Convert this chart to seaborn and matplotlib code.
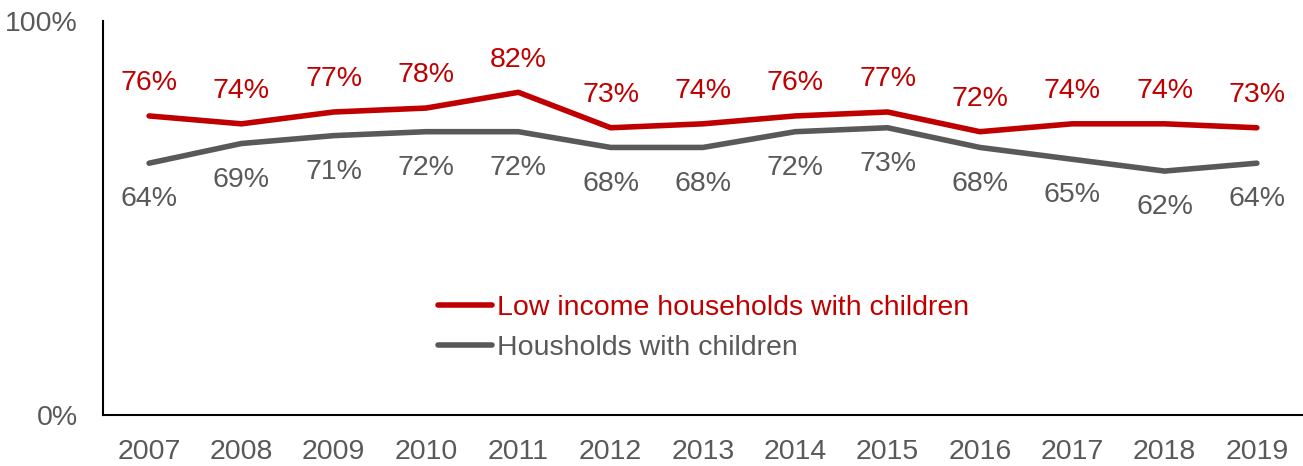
import matplotlib
matplotlib.use("Agg")
import matplotlib.pyplot as plt
import seaborn as sns
import pandas as pd

years = [2007, 2008, 2009, 2010, 2011, 2012, 2013, 2014, 2015, 2016, 2017, 2018, 2019]
low_income = [76, 74, 77, 78, 82, 73, 74, 76, 77, 72, 74, 74, 73]
households = [64, 69, 71, 72, 72, 68, 68, 72, 73, 68, 65, 62, 64]
series_names = ["Low income households with children", "Housholds with children"]
colors = ["#C00000", "#595959"]

sns.set_theme(style="white")
plt.rcParams['font.family'] = ['Liberation Sans', 'DejaVu Sans']

FS = 20.5

df = pd.DataFrame({
    "pos": list(range(len(years))) * 2,
    "value": low_income + households,
    "series": [series_names[0]] * len(years) + [series_names[1]] * len(years),
})

fig = plt.figure(figsize=(13.03, 4.66), dpi=100)
ax = fig.add_axes([0.079, 0.109, 0.921, 0.845])

sns.lineplot(data=df, x="pos", y="value", hue="series", palette=colors,
             hue_order=series_names, linewidth=4, ax=ax, legend=True)

for i, v in enumerate(low_income):
    ax.annotate(f"{v}%", (i, v), xytext=(0, 23.5), textcoords="offset points",
                ha="center", va="center", color=colors[0], fontsize=FS)
for i, v in enumerate(households):
    ax.annotate(f"{v}%", (i, v), xytext=(0, -26), textcoords="offset points",
                ha="center", va="center", color=colors[1], fontsize=FS)

ax.set_xlim(-0.5, len(years) - 0.5)
ax.set_ylim(0, 100)
ax.set_xticks(range(len(years)))
ax.set_xticklabels([str(y) for y in years])
ax.set_yticks([0, 100])
ax.set_yticklabels(["0%", "100%"])
ax.tick_params(axis="both", length=0, labelsize=FS, labelcolor="#595959")
ax.tick_params(axis="x", pad=17)
ax.tick_params(axis="y", pad=18)
ax.set_xlabel("")
ax.set_ylabel("")
for s in ["top", "right"]:
    ax.spines[s].set_visible(False)
for s in ["left", "bottom"]:
    ax.spines[s].set_color("black")
    ax.spines[s].set_linewidth(1.5)

leg = ax.legend(loc="upper left", bbox_to_anchor=(0.258, 0.37), frameon=False,
                fontsize=FS, handlelength=1.9, handletextpad=0.15, labelspacing=0.5)
for txt, c in zip(leg.get_texts(), colors):
    txt.set_color(c)

fig.savefig("out.png", dpi=100)
